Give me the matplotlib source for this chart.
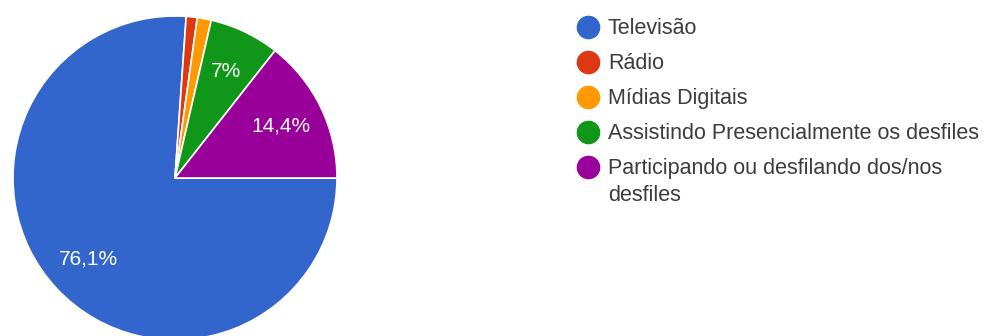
import matplotlib
matplotlib.use("Agg")
import matplotlib.pyplot as plt

categories = ["Televisão", "Rádio", "Mídias Digitais",
              "Assistindo Presencialmente os desfiles",
              "Participando ou desfilando dos/nos\ndesfiles"]
values = [76.1, 1.1, 1.4, 7.0, 14.4]
colors = ["#3366cc", "#dc3912", "#ff9900", "#109618", "#990099"]

plt.rcParams['font.family'] = ['Liberation Sans', 'DejaVu Sans']

W, H = 986, 336
fig = plt.figure(figsize=(W / 100, H / 100), dpi=100)
fig.patch.set_facecolor("white")

cx, cy, r = 175, 178, 162
ax = fig.add_axes([(cx - r) / W, (H - cy - r) / H, 2 * r / W, 2 * r / H])


def fmt(p):
    if p < 5:
        return ""
    s = f"{p:.1f}"
    if s.endswith(".0"):
        s = s[:-2]
    return s.replace(".", ",") + "%"


wedges, texts, autotexts = ax.pie(
    values, colors=colors, startangle=0, counterclock=False,
    autopct=fmt, pctdistance=0.73,
    wedgeprops=dict(edgecolor="white", linewidth=1.2),
    textprops=dict(color="white", fontsize=15))
ax.set_xlim(-1, 1)
ax.set_ylim(-1, 1)
ax.set_aspect("equal")
ax.axis("off")

# legend drawn in a pixel-coordinate overlay
lax = fig.add_axes([0, 0, 1, 1])
lax.set_xlim(0, W)
lax.set_ylim(H, 0)
lax.axis("off")
row0, step = 27, 35
mx, tx = 588, 608
for i, (lab, c) in enumerate(zip(categories, colors)):
    y = row0 + i * step
    lax.plot([mx], [y], marker="o", markersize=16, color=c, linestyle="")
    lax.text(tx, y - 9, lab, fontsize=15.5, color="#3c3c3c",
             va="top", ha="left", linespacing=1.38)

fig.savefig("out.png", dpi=100, facecolor="white")
